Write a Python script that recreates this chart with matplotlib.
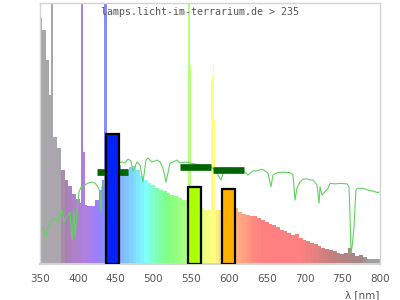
import numpy as np
import matplotlib
matplotlib.use('Agg')
import matplotlib.pyplot as plt
from matplotlib.colors import to_rgb

# lamp spectrum, read every 5 nm (relative, 0-100)
wavelengths = list(range(350, 805, 5))
intensity = [94.3, 89.7, 78.2, 64.8, 48.7, 44.4, 36.0, 32.2, 29.9, 26.8,
             24.9, 23.4, 22.6, 22.2, 22.2, 24.5, 28.4, 32.2, 36.0, 39.1,
             39.8, 37.9, 34.9, 36.0, 37.2, 37.4, 36.0, 33.7, 32.2, 31.2,
             30.1, 29.1, 28.4, 27.8, 27.2, 26.4, 25.9, 25.3, 24.7, 24.5,
             23.8, 23.0, 22.2, 21.5, 20.7, 20.7, 20.7, 20.5, 20.7, 21.1,
             21.5, 21.5, 21.5, 19.9, 19.2, 18.8, 18.5, 18.2, 17.6, 17.0,
             16.2, 15.3, 14.8, 14.0, 13.2, 12.6, 11.7, 11.1, 11.5, 9.8,
             9.2, 8.8, 8.0, 7.5, 6.9, 6.3, 5.7, 5.4, 5.0, 4.4,
             4.0, 4.2, 6.1, 4.2, 3.1, 3.4, 2.7, 2.1, 2.1, 1.9,
             1.9]

# mercury lines (narrow peaks)
line_nm = [365.3, 366.6, 404.6, 405.9, 407.9, 409.2, 435.4, 436.7, 438.0,
           546.6, 547.9, 549.2, 577.0, 578.3, 579.6, 580.9]
line_val = [110, 110, 110, 110, 43, 43, 110, 110, 110,
            110, 110, 76, 70, 72, 76, 55]

# reference (daylight) curve
sun_nm = [351.3, 354, 358, 360.6, 365.9, 369.9, 373.8, 379.1, 381.8, 385.7,
          389.7, 392.4, 395, 396.3, 399, 401.6, 404.3, 409.6, 413.5, 418.8,
          422.8, 426.8, 429.4, 430.7, 432, 445.3, 458.5, 462.5, 466.5, 470.4,
          473.1, 478.4, 482.4, 486.3, 490.3, 492.9, 498.2, 504.9, 508.8, 512.8,
          516.8, 522.1, 526, 531.3, 535.3, 543.2, 561.8, 575, 581.6, 589.5,
          594.8, 608.1, 621.3, 625.3, 631.9, 637.2, 643.8, 649.1, 651.8, 655.7,
          658.4, 663.7, 671.6, 680.9, 684.9, 687.5, 690.1, 694.1, 698.1, 703.4,
          707.4, 711.3, 716.6, 719.3, 720.6, 723.2, 727.2, 731.2, 733.8, 740.4,
          747.1, 756.3, 759, 760.3, 761.7, 763.6, 765.6, 766.9, 768.2, 770.2,
          777.5, 782.8, 789.4, 793.4, 797.4, 798.7]
sun_val = [13.0, 14.2, 10.0, 14.2, 16.9, 17.6, 16.1, 20.7, 16.1, 18.0,
           19.9, 9.2, 20.7, 10.3, 20.7, 27.6, 29.5, 30.3, 31.0, 31.4,
           31.0, 29.5, 27.6, 19.9, 29.5, 37.9, 39.1, 38.7, 40.2, 39.5,
           35.6, 39.1, 37.9, 31.4, 39.8, 40.6, 39.1, 39.8, 39.1, 36.8,
           31.4, 38.7, 39.1, 39.8, 38.7, 39.1, 37.9, 37.5, 36.0, 32.2,
           36.8, 36.0, 35.2, 34.1, 35.7, 35.7, 36.3, 35.4, 34.8, 29.6,
           34.1, 35.0, 35.2, 35.0, 34.1, 24.5, 29.0, 31.5, 32.5, 32.6,
           32.2, 32.2, 30.3, 23.3, 29.6, 26.4, 27.7, 29.0, 30.9, 30.7,
           30.9, 30.7, 29.6, 18.1, 4.1, 8.0, 14.3, 22.0, 28.4, 29.0,
           29.0, 28.4, 28.0, 27.7, 27.3, 27.6]

# band values (blue / green / orange)
band_center = [446, 554.5, 599.5]
band_value = [49.9, 29.6, 28.9]
band_colors = ['#0022ff', '#aaff00', '#ffb000']

# dark green reference levels
ref_start = [425, 535, 579]
ref_end = [467, 576, 620]
ref_value = [35.4, 37.0, 36.2]

# pastel spectrum colours
col_nm = [350, 378, 381, 395, 410, 425, 440, 455, 470, 490, 505, 520, 545,
          570, 580, 595, 610, 635, 645, 695, 740, 778, 782, 800]
col_hex = ['#aba6ad', '#aba6ad', '#a680a8', '#b080c8', '#b080e0', '#9a80ff',
           '#8090ff', '#80b0ff', '#80d0ff', '#80ffff', '#80ffb0', '#80ff80',
           '#b0ff80', '#f0ff80', '#ffff80', '#ffd080', '#ffb080', '#ff8880',
           '#ff8080', '#ff8080', '#c08080', '#a08888', '#a0a0a0', '#a0a0a0']
col_rgb = np.array([to_rgb(c) for c in col_hex])


def spec_color(nm):
    return tuple(np.interp(nm, col_nm, col_rgb[:, i]) for i in range(3))


fig = plt.figure(figsize=(4, 3), dpi=100)
ax = fig.add_axes([0.1, 0.12, 0.85, 0.87])

ax.bar(wavelengths, intensity, width=5.1, color=[spec_color(w) for w in wavelengths],
       linewidth=0, zorder=1)
ax.bar(line_nm, line_val, width=1.6, color=[spec_color(w) for w in line_nm],
       linewidth=0, zorder=1.5)
ax.plot(sun_nm, sun_val, color='#5fd35f', lw=0.8, zorder=2)
ax.hlines(ref_value, ref_start, ref_end, color='#006400', lw=4.8,
          zorder=3)
ax.bar(band_center, band_value, width=18, color=band_colors,
       edgecolor='black', linewidth=1.6, zorder=4)

ax.set_xlim(350, 800)
ax.set_ylim(0, 100)
ax.set_yticks([])
ax.set_xticks([350, 400, 450, 500, 550, 600, 650, 700, 750, 800])
ax.tick_params(axis='x', length=0, pad=7, labelsize=7.5, labelcolor='#555555')
for s in ax.spines.values():
    s.set_color('#d4d4d4')
    s.set_linewidth(1)
ax.spines['bottom'].set_linewidth(1.5)

ax.text(0.47, 0.967, 'lamps.licht-im-terrarium.de > 235', transform=ax.transAxes,
        ha='center', va='center', family='DejaVu Sans Mono', fontsize=7.2,
        color='#555555', zorder=5)
fig.text(0.948, 0.015, 'λ [nm]', ha='right', va='center', fontsize=7.5,
         color='#555555')

fig.savefig('out.png', dpi=100)
